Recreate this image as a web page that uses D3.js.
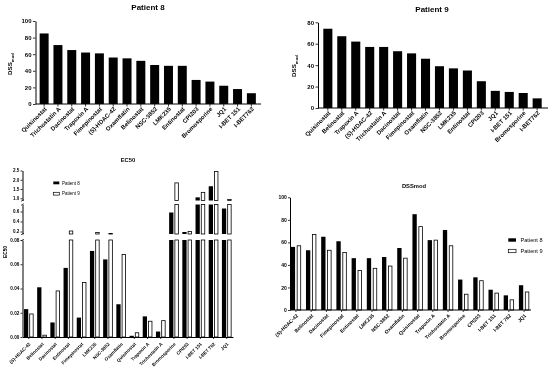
<!DOCTYPE html>
<html><head><meta charset="utf-8">
<script src="https://cdn.jsdelivr.net/npm/d3@7"></script>
<style>body{margin:0;background:#fff} svg{display:block} text{font-family:"Liberation Sans",Arial,sans-serif;fill:#000}</style>
</head><body>
<svg id="c" width="550" height="372"></svg>
<script>
const p8Cats = ["Quisinostat","Trichostatin A","Dacinostat","Trapoxin A","Fimepinostat","(S)-HDAC-42","Oxamflatin","Belinostat","NSC-3852","LMK235","Entinostat","CPI203","Bromosporine","JQ1","I-BET 151","I-BET762"];
const p8Vals = [85,71,65,62,61,56,55,52,47,46,46,29,27,22,18,13];
const p9Cats = ["Quisinostat","Belinostat","Trapoxin A","(S)-HDAC-42","Trichostatin A","Dacinostat","Fimepinostat","Oxamflatin","NSC-3852","LMK235","Entinostat","CPI203","JQ1","I-BET 151","Bromosporine","I-BET762"];
const p9Vals = [74,67,62,57,57,53,51,46,39,37,35,25,16,15,14,9];
const p8Ticks = [0,20,40,60,80,100];
const p9Ticks = [0,20,40,60,80];

const ecCats = ["(S)-HDAC-42","Belinostat","Dacinostat","Entinostat","Fimepinostat","LMK235","NSC-3852","Oxamflatin","Quisinostat","Trapoxin A","Trichostatin A","Bromosporine","CPI203","I-BET 151","I-BET 762","JQ1"];
const ecP8 = [0.023,0.041,0.012,0.057,0.016,0.071,0.064,0.027,0.001,0.017,0.0045,0.58,0.19,1.05,1.65,0.66];
const ecP9 = [0.019,0.0015,0.038,0.21,0.045,0.18,0.16,0.068,0.0035,0.013,0.0135,1.83,0.2,1.32,2.45,0.93];
const ecTicksLow = [0,0.02,0.04,0.06,0.08];
const ecTicksMid = [0.2,0.4,0.6];
const ecTicksTop = [1.0,1.5,2.0,2.5];

const dssCats = ["(S)-HDAC-42","Belinostat","Dacinostat","Fimepinostat","Entinostat","LMK235","NSC-3852","Oxamflatin","Quisinostat","Trapoxin A","Trichostatin A","Bromosporine","CPI203","I-BET 151","I-BET 762","JQ1"];
const dssP8 = [56,53,65,61,46,46,47,55,85,62,71,27,29,18,13,22];
const dssP9 = [57,67,53,51,35,37,39,46,74,62,57,14,26,15,9,16];
const dssTicks = [0,20,40,60,80,100];
const series = ["Patient 8","Patient 9"];

const svg = d3.select("#c").append("g").attr("opacity",0.999);

function styleAxis(g, fs){
  g.select(".domain").attr("stroke","#000").attr("stroke-width",1);
  g.selectAll(".tick line").attr("stroke","#000").attr("stroke-width",0.8);
  g.selectAll("text").attr("font-size",fs).attr("font-weight","bold").attr("fill","#000");
}

function xLabels(g, x, cats, y0, fs, a, b){
  g.append("g").selectAll("text").data(cats).join("text")
    .attr("transform", d => `translate(${x(d)+x.bandwidth()/2+a},${y0+b}) rotate(-45)`)
    .attr("text-anchor","end").attr("font-size",fs).attr("font-weight","bold").attr("fill","#000")
    .text(d=>d);
}

function topChart(cats, vals, ticks, xr, yr, ymax, po, title, tx, ty, lx, ly){
  const x = d3.scaleBand().domain(cats).range(xr).paddingInner(0.35).paddingOuter(po);
  const y = d3.scaleLinear().domain([0,ymax]).range(yr);
  const g = svg.append("g");
  g.selectAll("rect").data(cats).join("rect")
    .attr("x", d=>x(d)).attr("width", x.bandwidth())
    .attr("y", (d,i)=>y(vals[i])).attr("height",(d,i)=>y(0)-y(vals[i])).attr("fill","#000");
  const ya = g.append("g").attr("transform",`translate(${xr[0]},0)`)
    .call(d3.axisLeft(y).tickValues(ticks).tickSize(2.5).tickSizeOuter(0).tickPadding(1.5));
  styleAxis(ya, 6);
  const xa = g.append("g").attr("transform",`translate(0,${yr[0]})`)
    .call(d3.axisBottom(x).tickSize(2.5).tickSizeOuter(0).tickFormat(""));
  xa.select(".domain").attr("d",`M${xr[0]},0H${xr[1]+1}`);
  styleAxis(xa, 6);
  xLabels(g, x, cats, yr[0], 6, 3, 5.5);
  g.append("text").attr("x",tx).attr("y",ty).attr("text-anchor","middle")
    .attr("font-size",8).attr("font-weight","bold").text(title);
  const yl = g.append("text").attr("transform",`translate(${lx},${ly}) rotate(-90)`)
    .attr("text-anchor","middle").attr("font-size",6.2).attr("font-weight","bold");
  yl.append("tspan").text("DSS");
  yl.append("tspan").attr("font-size",4.3).attr("dy",1.5).text("mod");
}

topChart(p8Cats, p8Vals, p8Ticks, [35.5,260], [104,21], 100, 0.3, "Patient 8", 148, 10, 12, 64);
topChart(p9Cats, p9Vals, p9Ticks, [318,547], [108,22.3], 80, 0.38, "Patient 9", 432, 11.5, 296, 66);

// EC50 broken-axis chart
(function(){
  const g = svg.append("g");
  const x = d3.scaleBand().domain(ecCats).range([22.5,233]).paddingInner(0.27).paddingOuter(0.11);
  const xs = d3.scaleBand().domain(series).range([0,x.bandwidth()]).paddingInner(0.2);
  const segs = [
    {d:[0,0.08], r:[337,240], t:ecTicksLow, f:d3.format(".2f")},
    {d:[0.15,0.74], r:[234,204.5], t:ecTicksMid, f:d3.format(".1f")},
    {d:[0.88,2.5], r:[200.5,170.5], t:ecTicksTop, f:d3.format(".1f")}
  ];
  const data = ecCats.map((c,i)=>({c, v:[ecP8[i], ecP9[i]]}));
  segs.forEach((s,si)=>{
    const y = d3.scaleLinear().domain(s.d).range(s.r);
    data.forEach(row=>{
      series.forEach((sr,k)=>{
        const v = row.v[k];
        if (v <= s.d[0]) return;
        const top = y(Math.min(v, s.d[1]));
        g.append("rect").attr("x", x(row.c)+xs(sr)+(k?0.4:0)).attr("width", xs.bandwidth()-(k?0.8:0))
          .attr("y", top).attr("height", s.r[0]-top)
          .attr("fill", k ? "#fff" : "#000").attr("stroke", "#000").attr("stroke-width", k ? 0.8 : 0);
      });
    });
    const ya = g.append("g").attr("transform","translate(22.5,0)")
      .call(d3.axisLeft(y).tickValues(s.t).tickFormat(s.f).tickSize(2).tickSizeOuter(0).tickPadding(1.2));
    styleAxis(ya, 4.6);
    if (si>0){
      g.append("line").attr("x1",21).attr("x2",24).attr("y1",s.r[0]+0.8).attr("y2",s.r[0]-0.8).attr("stroke","#000").attr("stroke-width",0.7);
    }
    if (si<2){
      g.append("line").attr("x1",21).attr("x2",24).attr("y1",s.r[1]+0.8).attr("y2",s.r[1]-0.8).attr("stroke","#000").attr("stroke-width",0.7);
    }
  });
  const xa = g.append("g").attr("transform","translate(0,337)")
    .call(d3.axisBottom(x).tickSize(2).tickSizeOuter(0).tickFormat(""));
  styleAxis(xa, 5);
  xLabels(g, x, ecCats, 337, 4.6, 2, 7.5);
  g.append("text").attr("x",128).attr("y",162).attr("text-anchor","middle")
    .attr("font-size",5.8).attr("font-weight","bold").text("EC50");
  g.append("text").attr("transform","translate(6.5,252) rotate(-90)").attr("text-anchor","middle")
    .attr("font-size",4.8).attr("font-weight","bold").text("EC50");
  series.forEach((s,k)=>{
    g.append("rect").attr("x",53.3).attr("y",181.5+k*10.8).attr("width",6).attr("height",2.8)
      .attr("fill",k?"#fff":"#000").attr("stroke","#000").attr("stroke-width",k?0.7:0);
    g.append("text").attr("x",62).attr("y",184.6+k*10.8).attr("font-size",4.5).text(s);
  });
})();

// DSSmod grouped chart
(function(){
  const g = svg.append("g");
  const x = d3.scaleBand().domain(dssCats).range([290,530]).paddingInner(0.32).paddingOuter(0.05);
  const xs = d3.scaleBand().domain(series).range([0,x.bandwidth()]).paddingInner(0.28);
  const y = d3.scaleLinear().domain([0,100]).range([310,197.3]);
  const vals = [dssP8, dssP9];
  series.forEach((sr,k)=>{
    g.append("g").selectAll("rect").data(dssCats).join("rect")
      .attr("x", d=>x(d)+xs(sr)+(k?0.4:0)).attr("width", xs.bandwidth()-(k?0.8:0))
      .attr("y",(d,i)=>y(vals[k][i])).attr("height",(d,i)=>y(0)-y(vals[k][i]))
      .attr("fill", k ? "#fff" : "#000").attr("stroke","#000").attr("stroke-width", k?0.8:0);
  });
  const ya = g.append("g").attr("transform","translate(290,0)")
    .call(d3.axisLeft(y).tickValues(dssTicks).tickSize(2).tickSizeOuter(0).tickPadding(1.2));
  styleAxis(ya, 5);
  const xa = g.append("g").attr("transform","translate(0,310)")
    .call(d3.axisBottom(x).tickSize(2).tickSizeOuter(0).tickFormat(""));
  xa.select(".domain").attr("d","M290,0H531");
  styleAxis(xa, 5);
  xLabels(g, x, dssCats, 310, 5, 2.5, 6);
  g.append("text").attr("x",414).attr("y",188).attr("text-anchor","middle")
    .attr("font-size",5.8).attr("font-weight","bold").text("DSSmod");
  series.forEach((s,k)=>{
    g.append("rect").attr("x",508.3).attr("y",238.3+k*11).attr("width",7.7).attr("height",3.4)
      .attr("fill",k?"#fff":"#000").attr("stroke","#000").attr("stroke-width",k?0.7:0);
    g.append("text").attr("x",520.5).attr("y",242+k*11).attr("font-size",5.6).text(s);
  });
})();
</script>
</body></html>
